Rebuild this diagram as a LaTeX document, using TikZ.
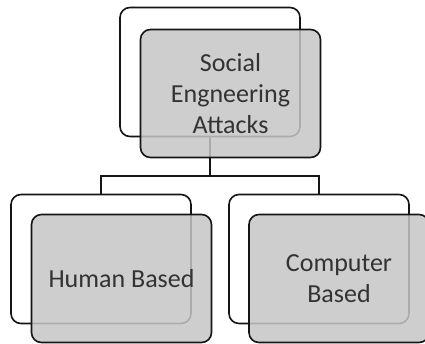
\documentclass[tikz,border=0pt]{standalone}
\usepackage{fontspec}
\setmainfont{Carlito}
\definecolor{boxgray}{HTML}{C6C6C6}
\definecolor{textgray}{HTML}{333333}
\definecolor{linecol}{HTML}{151515}
\begin{document}
\begin{tikzpicture}[x=1pt,y=-1pt,
  backbox/.style={draw=linecol, line width=1.6pt, rounded corners=10pt, fill=white,
    minimum width=180pt, minimum height=129pt, inner sep=0pt},
  frontbox/.style={draw=linecol, line width=1.6pt, rounded corners=10pt, fill=boxgray,
    fill opacity=0.85, text opacity=1, text=textgray, minimum width=180pt, minimum height=128pt,
    align=center, font=\fontsize{26}{31}\selectfont, inner sep=0pt},
  link/.style={draw=linecol, line width=1.6pt}]
\useasboundingbox (0,0) rectangle (425,343);
% back boxes
\node[backbox] (topback) at (210,72) {};
\node[backbox] (leftback) at (101,259) {};
\node[backbox] (rightback) at (319,259) {};
% connectors
\coordinate (j) at (210,176);
\draw[link] (topback.south) -- (j);
\draw[link] (leftback.north) |- (j) -| (rightback.north);
% front boxes
\node[frontbox] (top) at (230.5,93.5) {Social\\Engneering\\Attacks};
\node[frontbox] (left) at (121.5,278.5) {Human Based};
\node[frontbox] (right) at (339,278.5) {Computer\\Based};
\end{tikzpicture}
\end{document}
